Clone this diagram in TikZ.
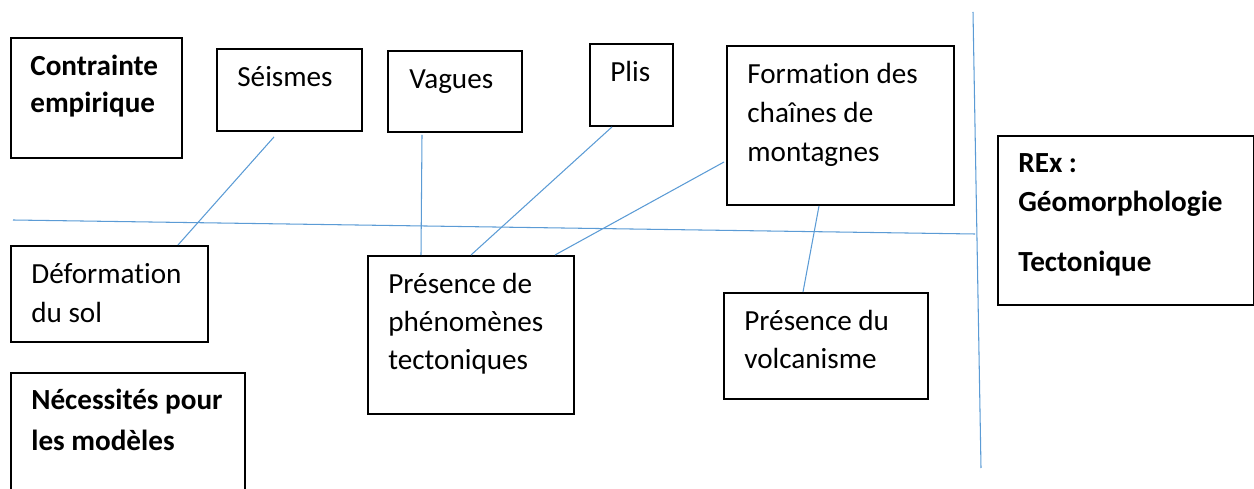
\documentclass[tikz,border=0pt]{standalone}
\usepackage{fontspec}
\setmainfont{Carlito}[Ligatures=NoCommon]
\usetikzlibrary{calc}
\definecolor{linkblue}{RGB}{91,155,213}
\tikzset{
  box/.style={draw=black, line width=1.1pt, rectangle, inner sep=0pt, anchor=north west},
  lbl/.style={anchor=base west, inner sep=0pt, font=\fontsize{16.6}{22}\selectfont},
  blbl/.style={lbl, font=\fontsize{16.6}{22}\selectfont\bfseries},
  conn/.style={draw=linkblue, line width=0.6pt}
}
\begin{document}
\begin{tikzpicture}[x=0.02cm,y=-0.02cm]
\useasboundingbox (0,0) rectangle (1254,489);
% boxes
\node[box, minimum width=171*0.02cm, minimum height=120*0.02cm] (contr) at (10,37) {};
\node[box, minimum width=145*0.02cm, minimum height=82*0.02cm] (seismes) at (216,48) {};
\node[box, minimum width=134*0.02cm, minimum height=81*0.02cm] (vagues) at (387,50) {};
\node[box, minimum width=83*0.02cm, minimum height=82*0.02cm] (plis) at (589,43) {};
\node[box, minimum width=227*0.02cm, minimum height=159*0.02cm] (form) at (726,45) {};
\node[box, minimum width=256*0.02cm, minimum height=169*0.02cm] (rex) at (997,135) {};
\node[box, minimum width=197*0.02cm, minimum height=96*0.02cm] (defo) at (10,245) {};
\node[box, minimum width=206*0.02cm, minimum height=158*0.02cm] (pres) at (367,255) {};
\node[box, minimum width=204*0.02cm, minimum height=106*0.02cm] (volc) at (723,292) {};
\node[box, minimum width=234*0.02cm, minimum height=140*0.02cm] (nece) at (10,372) {};
% texts
\node[blbl] (t1) at (30,76) {Contrainte};
\node[blbl] (t2) at (30,113) {empirique};
\node[lbl] (t3) at (237,87) {Séismes};
\node[lbl] (t4) at (409,89) {Vagues};
\node[lbl] (t5) at (610,82) {Plis};
\node[lbl] (t6) at (747,84) {Formation des};
\node[lbl] (t7) at (747,123) {chaînes de};
\node[lbl] (t8) at (747,162) {montagnes};
\node[blbl] (t9) at (1018,173) {REx :};
\node[blbl] (t10) at (1018,212) {Géomorphologie};
\node[blbl] (t11) at (1018,272) {Tectonique};
\node[lbl] (t12) at (31,284) {Déformation};
\node[lbl] (t13) at (31,323) {du sol};
\node[lbl] (t14) at (388,294) {Présence de};
\node[lbl] (t15) at (388,332) {phénomènes};
\node[lbl] (t16) at (388,370) {tectoniques};
\node[blbl] (t17) at (31,410) {Nécessités pour};
\node[blbl] (t18) at (31,450) {les modèles};
\node[lbl] (t19) at (744,331) {Présence du};
\node[lbl] (t20) at (744,369) {volcanisme};
% axes lines
\coordinate (h1) at (13,220);
\coordinate (h2) at (975,234);
\coordinate (v1) at (973,12);
\coordinate (v2) at (981,468);
\draw[conn] (h1) -- (h2);
\draw[conn] (v1) -- (v2);
% connectors
\draw[conn] ([shift={(58,5)}]seismes.south west) -- ([shift={(168,0)}]defo.north west);
\draw[conn] ([shift={(35,2)}]vagues.south west) -- ([shift={(54,0)}]pres.north west);
\draw[conn] ([shift={(23,0)}]plis.south west) -- ([shift={(104,0)}]pres.north west);
\draw[conn] ([shift={(-2,117)}]form.north west) -- ([shift={(188,0)}]pres.north west);
\draw[conn] ([shift={(93,0)}]form.south west) -- ([shift={(80,0)}]volc.north west);
\end{tikzpicture}
\end{document}
